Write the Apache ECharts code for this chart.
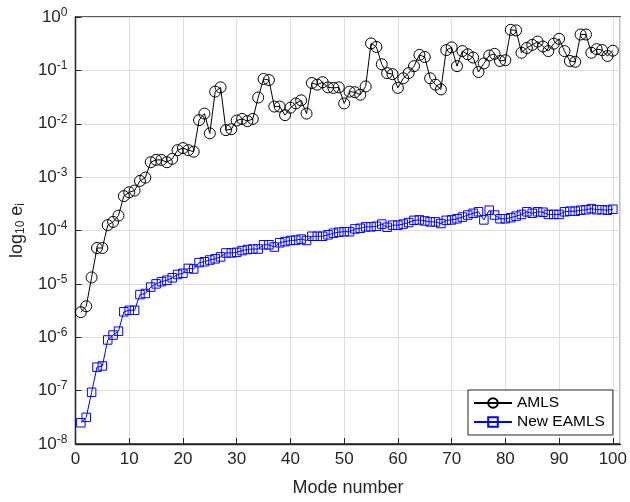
<!DOCTYPE html>
<html>
<head>
<meta charset="utf-8">
<script src="https://cdn.jsdelivr.net/npm/echarts@6/dist/echarts.min.js"></script>
<style>
html,body{margin:0;padding:0;background:#fff;}
#main{width:630px;height:502px;}
</style>
</head>
<body>
<div id="main"></div>
<script>
// mode numbers
var modes = [1,2,3,4,5,6,7,8,9,10,11,12,13,14,15,16,17,18,19,20,
  21,22,23,24,25,26,27,28,29,30,31,32,33,34,35,36,37,38,39,40,
  41,42,43,44,45,46,47,48,49,50,51,52,53,54,55,56,57,58,59,60,
  61,62,63,64,65,66,67,68,69,70,71,72,73,74,75,76,77,78,79,80,
  81,82,83,84,85,86,87,88,89,90,91,92,93,94,95,96,97,98,99,100];

// AMLS error
var amls = [2.95e-6,3.8e-6,1.32e-5,4.7e-5,4.7e-5,1.26e-4,1.45e-4,1.9e-4,4.4e-4,5.2e-4,
  5.6e-4,8.5e-4,9.8e-4,1.9e-3,2.1e-3,2.1e-3,1.9e-3,2.2e-3,3.2e-3,3.5e-3,
  3.2e-3,3.0e-3,1.17e-2,1.55e-2,6.6e-3,4.0e-2,4.8e-2,7.6e-3,7.9e-3,1.15e-2,
  1.23e-2,1.12e-2,1.23e-2,3.1e-2,6.9e-2,6.6e-2,2.1e-2,2.1e-2,1.45e-2,2.0e-2,
  2.4e-2,2.75e-2,1.55e-2,5.8e-2,5.4e-2,6.0e-2,4.8e-2,4.7e-2,4.8e-2,2.4e-2,
  4.0e-2,3.9e-2,3.5e-2,5.0e-2,0.32,0.275,0.13,0.089,0.085,0.047,
  0.071,0.089,0.12,0.195,0.178,0.071,0.054,0.044,0.24,0.27,
  0.12,0.23,0.20,0.174,0.093,0.135,0.19,0.204,0.15,0.155,
  0.575,0.56,0.214,0.263,0.30,0.347,0.28,0.23,0.316,0.39,
  0.23,0.15,0.145,0.47,0.47,0.214,0.25,0.24,0.186,0.234];

// New EAMLS error
var eamls = [2.5e-8,3.15e-8,9.3e-8,2.75e-7,2.9e-7,8.9e-7,1.1e-6,1.3e-6,3.0e-6,3.2e-6,
  3.2e-6,6.3e-6,6.6e-6,8.7e-6,1.0e-5,1.1e-5,1.17e-5,1.3e-5,1.5e-5,1.58e-5,
  1.95e-5,1.9e-5,2.5e-5,2.6e-5,2.8e-5,2.95e-5,3.2e-5,3.8e-5,3.8e-5,3.9e-5,
  4.2e-5,4.4e-5,4.5e-5,4.5e-5,5.4e-5,5.4e-5,4.9e-5,5.9e-5,6.2e-5,6.5e-5,
  6.6e-5,6.9e-5,6.5e-5,7.8e-5,7.8e-5,7.8e-5,8.3e-5,8.9e-5,9.3e-5,9.5e-5,
  9.5e-5,1.07e-4,1.1e-4,1.17e-4,1.17e-4,1.2e-4,1.32e-4,1.15e-4,1.26e-4,1.26e-4,
  1.32e-4,1.41e-4,1.55e-4,1.58e-4,1.51e-4,1.45e-4,1.45e-4,1.35e-4,1.55e-4,1.58e-4,
  1.66e-4,1.78e-4,1.95e-4,2.1e-4,2.24e-4,1.58e-4,2.4e-4,1.95e-4,1.66e-4,1.66e-4,
  1.74e-4,1.86e-4,2.0e-4,2.24e-4,2.1e-4,2.24e-4,2.2e-4,2.0e-4,2.0e-4,2.0e-4,
  2.24e-4,2.3e-4,2.3e-4,2.4e-4,2.45e-4,2.57e-4,2.45e-4,2.45e-4,2.4e-4,2.5e-4];

function pairs(ys){
  var out = [];
  for (var i = 0; i < modes.length; i++) out.push([modes[i], ys[i]]);
  return out;
}

var ink = '#262626';
var font = '"Liberation Sans", Arial, Helvetica, sans-serif';

var myChart = echarts.init(document.getElementById('main'));
var option = {
  animation: false,
  textStyle: {fontFamily: font},
  grid: {
    left: 74, right: 6, top: 17, bottom: 52,
    show: true, borderColor: ink, borderWidth: 1.3
  },
  legend: {
    orient: 'vertical',
    left: 468, top: 390,
    padding: [5, 8, 5, 5],
    itemGap: 3,
    itemWidth: 38, itemHeight: 12,
    backgroundColor: '#fff',
    borderColor: ink, borderWidth: 1,
    borderRadius: 0,
    textStyle: {fontSize: 15.5, color: '#000', fontFamily: font},
    data: ['AMLS', 'New EAMLS']
  },
  xAxis: {
    type: 'value',
    min: 0, max: 101.4, interval: 10,
    name: 'Mode number',
    nameLocation: 'middle',
    nameGap: 35,
    nameTextStyle: {fontSize: 18, color: ink, fontFamily: font},
    axisLine: {lineStyle: {color: ink, width: 1.3}},
    axisTick: {inside: true, length: 6, lineStyle: {color: ink}},
    axisLabel: {
      fontSize: 17, color: ink, margin: 7, showMaxLabel: false,
      formatter: function (v) { return (v % 10 === 0 && v <= 100) ? String(v) : ''; }
    },
    splitLine: {show: true, lineStyle: {color: '#dedede', width: 1}}
  },
  yAxis: {
    type: 'log', logBase: 10,
    min: 1e-8, max: 1,
    splitNumber: 8,
    name: '{a|log}{sub|10}{a| e}{sub|i}',
    nameLocation: 'middle',
    nameGap: 48,
    nameRotate: 90,
    nameTextStyle: {
      color: ink,
      rich: {
        a: {fontSize: 18, color: ink, fontFamily: font},
        sub: {fontSize: 12, color: ink, fontFamily: font, padding: [8, 0, 0, 0]}
      }
    },
    axisLine: {show: true, lineStyle: {color: ink, width: 1.3}},
    axisTick: {inside: true, length: 6, lineStyle: {color: ink}},
    minorTick: {show: false},
    axisLabel: {
      margin: 8,
      formatter: function (v) {
        return '{b|10}{s|' + Math.round(Math.log10(v)) + '}';
      },
      rich: {
        b: {fontSize: 17, color: ink, fontFamily: font},
        s: {fontSize: 12, color: ink, fontFamily: font, padding: [0, 0, 9, 0]}
      }
    },
    splitLine: {show: true, lineStyle: {color: '#dedede', width: 1}}
  },
  series: [
    {
      name: 'AMLS',
      type: 'line',
      data: pairs(amls),
      symbol: 'circle',
      symbolSize: 11,
      lineStyle: {color: '#000', width: 1},
      itemStyle: {color: 'rgba(0,0,0,0)', borderColor: '#000', borderWidth: 1}
    },
    {
      name: 'New EAMLS',
      type: 'line',
      data: pairs(eamls),
      symbol: 'rect',
      symbolSize: 8.5,
      lineStyle: {color: '#0000ff', width: 1},
      itemStyle: {color: 'rgba(0,0,0,0)', borderColor: '#0000ff', borderWidth: 1}
    }
  ]
};
myChart.setOption(option);
</script>
</body>
</html>
